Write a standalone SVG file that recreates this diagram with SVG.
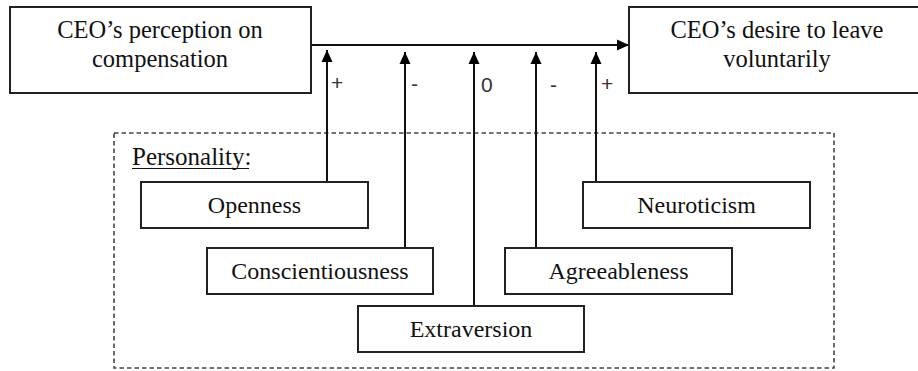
<svg xmlns="http://www.w3.org/2000/svg" width="918" height="371" viewBox="0 0 918 371">
<defs>
<marker id="ah2" viewBox="0 0 12 12" refX="12" refY="6" markerWidth="12" markerHeight="12" markerUnits="userSpaceOnUse" orient="auto">
<path d="M0,0.5 L12,6 L0,11.5 Z" fill="#000"/>
</marker>
</defs>
<style>
.box{fill:#fff;stroke:#222;stroke-width:2}
.t{font-family:"Liberation Serif","DejaVu Serif",serif;fill:#111;text-anchor:middle}
.big{font-size:24.5px}
.mid{font-size:24px}
.sg{font-family:"Liberation Sans",Arial,sans-serif;font-size:21px;fill:#333}
.ln{stroke:#111;stroke-width:2;fill:none}
.dash{fill:none;stroke:#444;stroke-width:1.6;stroke-dasharray:4.5,3}
</style>
<rect width="918" height="371" fill="#fff"/>
<rect class="dash" x="114" y="133" width="720" height="235"/>
<text x="132" y="165" class="t" style="text-anchor:start;font-size:25px">Personality:</text>
<line x1="132" y1="168.5" x2="249" y2="168.5" stroke="#111" stroke-width="1.2"/>
<g id="connectors">
<line class="ln" x1="311" y1="45" x2="629" y2="45" marker-end="url(#ah2)"/>
<line class="ln" x1="327" y1="182" x2="327" y2="50" marker-end="url(#ah2)"/>
<line class="ln" x1="405" y1="248" x2="405" y2="52" marker-end="url(#ah2)"/>
<line class="ln" x1="474" y1="306" x2="474" y2="52" marker-end="url(#ah2)"/>
<line class="ln" x1="536" y1="248" x2="536" y2="52" marker-end="url(#ah2)"/>
<line class="ln" x1="596" y1="182" x2="596" y2="52" marker-end="url(#ah2)"/>
<text class="sg" x="331" y="89.5">+</text>
<text class="sg" x="411" y="91">-</text>
<text class="sg" x="481" y="92">0</text>
<text class="sg" x="550" y="92">-</text>
<text class="sg" x="601" y="91">+</text>
</g>
<g id="ceo-perception">
<rect class="box" x="10" y="7" width="301" height="86"/>
<text class="t big" x="160" y="38">CEO’s perception on</text>
<text class="t big" x="160" y="67">compensation</text>
</g>
<g id="ceo-desire">
<rect class="box" x="629" y="7" width="295" height="86"/>
<text class="t big" x="777" y="38">CEO’s desire to leave</text>
<text class="t big" x="777" y="67">voluntarily</text>
</g>
<g id="openness">
<rect class="box" x="141" y="182" width="227" height="46"/>
<text class="t mid" x="254.5" y="213">Openness</text>
</g>
<g id="conscientiousness">
<rect class="box" x="207" y="248" width="226" height="46"/>
<text class="t mid" x="320" y="279">Conscientiousness</text>
</g>
<g id="extraversion">
<rect class="box" x="358" y="306" width="226" height="46"/>
<text class="t mid" x="471" y="337">Extraversion</text>
</g>
<g id="agreeableness">
<rect class="box" x="505" y="248" width="227" height="46"/>
<text class="t mid" x="618.5" y="279">Agreeableness</text>
</g>
<g id="neuroticism">
<rect class="box" x="583" y="182" width="227" height="46"/>
<text class="t mid" x="696.5" y="213">Neuroticism</text>
</g>
</svg>
